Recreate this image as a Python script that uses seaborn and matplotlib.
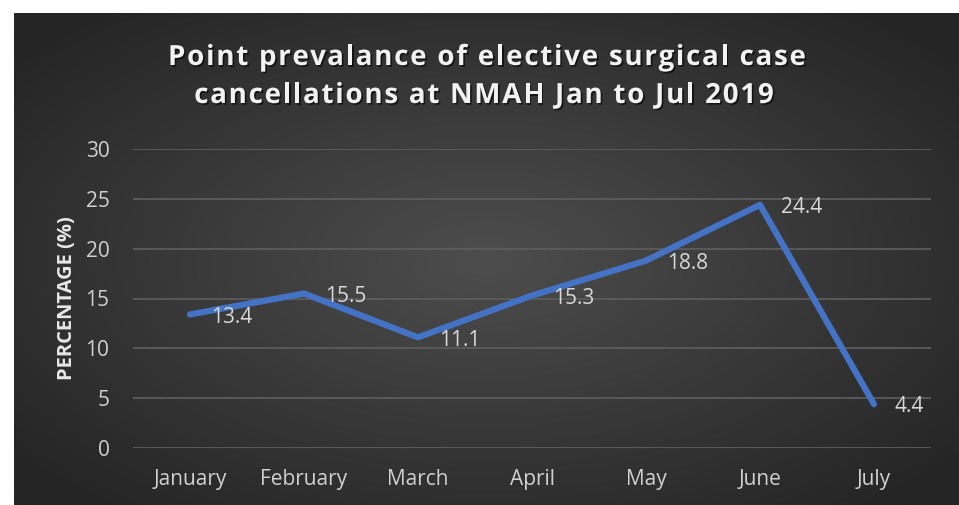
import numpy as np
import pandas as pd
import matplotlib
matplotlib.use("Agg")
import matplotlib.pyplot as plt
import matplotlib.patheffects as pe
import seaborn as sns

months = ["January", "February", "March", "April", "May", "June", "July"]
percentages = [13.4, 15.5, 11.1, 15.3, 18.8, 24.4, 4.4]
yticks = [0, 5, 10, 15, 20, 25, 30]
title_lines = ["Point prevalance of elective surgical case",
               "cancellations at NMAH Jan to Jul 2019"]
ylabel = "PERCENTAGE (%)"

df = pd.DataFrame({"month": months, "pct": percentages})

sns.set_theme(style="dark")
plt.rcParams["font.family"] = ["Open Sans", "DejaVu Sans"]

W, H = 959, 505
fig = plt.figure(figsize=(W / 100, H / 100), dpi=100)
fig.patch.set_facecolor("white")

# background radial gradient panel
bg = fig.add_axes([14 / W, 0, (W - 14) / W, (H - 13) / H])
bg.set_axis_off()
yy, xx = np.mgrid[-1:1:300j, -1:1:500j]
r = np.sqrt(xx ** 2 + yy ** 2)
r = np.clip(r / 1.3, 0, 1)
c_in = np.array([0x4d, 0x4d, 0x4d]) / 255
c_out = np.array([0x25, 0x25, 0x25]) / 255
img = c_in[None, None, :] * (1 - r[..., None]) + c_out[None, None, :] * r[..., None]
bg.imshow(img, aspect="auto", extent=[0, 1, 0, 1], interpolation="bilinear")
bg.set_xlim(0, 1)
bg.set_ylim(0, 1)

ax = fig.add_axes([133 / W, (H - 448) / H, (931 - 133) / W, (448 - 149) / H])
ax.set_facecolor("none")
sns.lineplot(data=df, x="month", y="pct", sort=False, ax=ax,
             color="#4472C4", linewidth=4.5, solid_capstyle="round",
             solid_joinstyle="round")

ax.set_ylim(0, 30)
ax.set_xlim(-0.5, len(months) - 0.5)
ax.set_yticks(yticks)
ax.set_yticklabels([str(t) for t in yticks])
for t in yticks:
    ax.axhline(t, color="#5c5c5c", linewidth=1.3, zorder=0)
ax.grid(False)
for s in ax.spines.values():
    s.set_visible(False)
ax.tick_params(axis="both", length=0, colors="#d0d0d0", labelsize=15)
ax.tick_params(axis="y", pad=17)
ax.tick_params(axis="x", pad=15)
ax.set_xlabel("")
ax.set_ylabel(ylabel, color="#e8e8e8", fontsize=14.5, fontweight="bold", labelpad=6)

for i, v in enumerate(percentages):
    ax.annotate(f"{v}", (i, v), xytext=(15, -2), textcoords="offset points",
                ha="left", va="center", color="#d9d9d9", fontsize=15)

# letter-spaced title
renderer = fig.canvas.get_renderer()
tkw = dict(fontsize=20, fontweight="bold", color="#f2f2f2")


def text_w(s):
    t = fig.text(0, 0, s + "|", **tkw)
    w1 = t.get_window_extent(renderer).width
    t.remove()
    t = fig.text(0, 0, "|", **tkw)
    w2 = t.get_window_extent(renderer).width
    t.remove()
    return w1 - w2


target_w = 638.0
base_w = text_w(title_lines[0])
spacing = (target_w - base_w) / (len(title_lines[0]) - 1)
baselines = [65, 103]
centers = [487, 484]
shadow = [pe.withSimplePatchShadow(offset=(1.2, -1.2), shadow_rgbFace="black", alpha=0.6)]
for line, base, cx in zip(title_lines, baselines, centers):
    total = text_w(line) + spacing * (len(line) - 1)
    x0 = cx - total / 2
    for k, ch in enumerate(line):
        if ch == " ":
            continue
        xpx = x0 + text_w(line[:k]) + spacing * k
        fig.text(xpx / W, 1 - base / H, ch, ha="left", va="baseline",
                 path_effects=shadow, **tkw)

fig.savefig("out.png", dpi=100)
